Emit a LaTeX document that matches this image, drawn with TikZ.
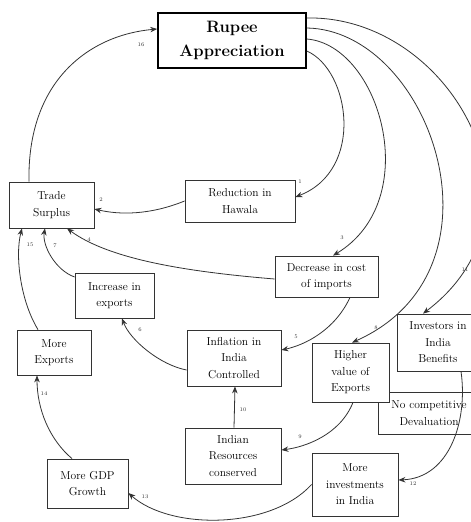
\documentclass[tikz,border=0pt]{standalone}
\usetikzlibrary{arrows.meta}
\begin{document}
\begin{tikzpicture}[x=1pt,y=-1pt,
  box/.style={draw=black!80, line width=0.8pt, fill=white, align=center, inner sep=0pt,
    font=\fontsize{11.5}{16.5}\selectfont},
  link/.style={draw=black!80, line width=0.8pt, -{Stealth[length=7pt,width=5.5pt]}},
  num/.style={font=\fontsize{5.5}{6}\selectfont, inner sep=0pt, text=black!80}]
\clip (0,0) rectangle (471,522);
\path[use as bounding box] (0,0) rectangle (471,522);

% boxes
\node[box, line width=1.6pt, draw=black, minimum width=148pt, minimum height=55pt,
  font=\fontsize{16.5}{24}\selectfont\bfseries] (rupee) at (232,40.5) {Rupee\\Appreciation};
\node[box, minimum width=85pt, minimum height=46pt] (trade) at (51.5,205) {Trade\\Surplus};
\node[box, minimum width=110pt, minimum height=42pt] (hawala) at (240,201) {Reduction in\\Hawala};
\node[box, minimum width=103pt, minimum height=41pt] (decr) at (326.5,276.5) {Decrease in cost\\of imports};
\node[box, minimum width=79pt, minimum height=45pt] (incr) at (114.5,295.5) {Increase in\\exports};
\node[box, minimum width=74pt, minimum height=45pt] (morex) at (54,352.5) {More\\Exports};
\node[box, minimum width=94pt, minimum height=56pt] (infl) at (234,358) {Inflation in\\India\\Controlled};
\node[box, minimum width=82pt, minimum height=57pt] (invest) at (438,342.5) {Investors in\\India\\Benefits};
\node[box, minimum width=102pt, minimum height=42pt] (nocomp) at (429,413) {No competitive\\Devaluation};
\node[box, minimum width=77pt, minimum height=59pt] (higher) at (350.5,372.5) {Higher\\value of\\Exports};
\node[box, minimum width=96pt, minimum height=56pt] (res) at (233,456) {Indian\\Resources\\conserved};
\node[box, minimum width=81pt, minimum height=49pt] (gdp) at (87.5,483.5) {More GDP\\Growth};
\node[box, minimum width=86pt, minimum height=63pt] (moreinv) at (355,484.5) {More\\investments\\in India};

% links out of the appreciation box
\draw[link] ([yshift=-10.5pt]rupee.east) .. controls (350,70) and (365,170) .. ([yshift=4pt]hawala.east);
\draw[link] ([yshift=1.5pt]rupee.east) .. controls (380,45) and (425,200) .. ([xshift=6.5pt]decr.north);
\draw[link] ([yshift=12.5pt]rupee.east) .. controls (430,30) and (515,270) .. ([xshift=1.5pt]higher.north);
\draw[link] ([yshift=22.5pt]rupee.east) .. controls (450,15) and (560,210) .. ([xshift=-15pt]invest.north);

% feedback into the appreciation box
\draw[link] ([xshift=-22.5pt]trade.north) .. controls (27,80) and (90,35) .. ([yshift=11.5pt]rupee.west);

% links into the trade surplus
\draw[link] (hawala.west) .. controls (150,215) and (120,215) .. ([yshift=-4pt]trade.east);
\draw[link] ([yshift=-2.5pt]decr.west) .. controls (190,272) and (110,260) .. ([xshift=15.5pt]trade.south);
\draw[link] ([yshift=18.5pt]incr.west) .. controls (55,270) and (42,245) .. ([xshift=-6.5pt]trade.south);
\draw[link] ([xshift=-16pt]morex.north) .. controls (20,300) and (15,255) .. ([xshift=-29.5pt]trade.south);

% remaining links
\draw[link] ([xshift=23.5pt]decr.south) .. controls (335,330) and (305,345) .. ([yshift=8pt]infl.east);
\draw[link] ([yshift=-12pt]infl.west) .. controls (160,365) and (130,340) .. ([xshift=7.5pt]incr.south);
\draw[link] ([xshift=2.5pt]higher.south) .. controls (340,435) and (305,447) .. ([yshift=6pt]res.east);
\draw[link] ([xshift=1pt]res.north) -- ([xshift=1pt]infl.south);
\draw[link] ([xshift=23pt]invest.south) .. controls (468,420) and (450,478) .. ([yshift=4.5pt]moreinv.east);
\draw[link] (moreinv.west) .. controls (270,530) and (170,530) .. ([yshift=-9.5pt]gdp.east);
\draw[link] ([xshift=-15.5pt]gdp.north) .. controls (50,440) and (37,410) .. ([xshift=-17pt]morex.south);

% step numbers
\node[num] (n1) at (300,182) {1};
\node[num] (n2) at (101,200) {2};
\node[num] (n3) at (342,238) {3};
\node[num] (n4) at (89,240) {4};
\node[num] (n5) at (296,337) {5};
\node[num] (n6) at (140,330) {6};
\node[num] (n7) at (55,246) {7};
\node[num] (n8) at (376,328) {8};
\node[num] (n9) at (300,437) {9};
\node[num] (n10) at (243,410) {10};
\node[num] (n11) at (465,270) {11};
\node[num] (n12) at (413,484) {12};
\node[num] (n13) at (145,497) {13};
\node[num] (n14) at (44,394) {14};
\node[num] (n15) at (30,245) {15};
\node[num] (n16) at (141,45) {16};
\end{tikzpicture}
\end{document}
